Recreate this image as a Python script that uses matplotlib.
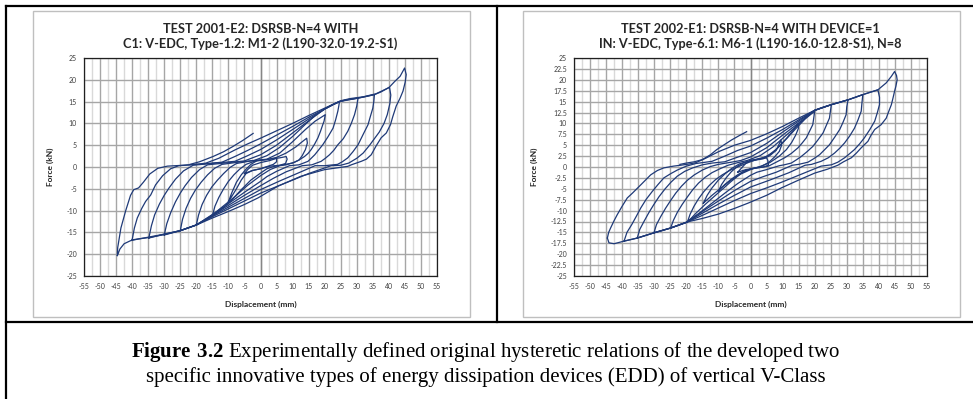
import matplotlib.pyplot as plt
from matplotlib.lines import Line2D
from matplotlib.patches import Rectangle
from matplotlib.ticker import MultipleLocator, FuncFormatter

plt.rcParams['mathtext.fontset'] = 'custom'
plt.rcParams['mathtext.rm'] = 'Liberation Serif'
plt.rcParams['mathtext.bf'] = 'Liberation Serif:bold'

# ---- data (displacement mm, force kN) ----
# left test 2001-E2, one loop per amplitude, clockwise from the negative peak
l5 = [(-5, -1.5), (-4, -0.6), (-2.5, 0.4), (0, 1.0), (3, 1.5), (5, 2.0),
      (5, 1.2), (4, 0.6), (2, 0.1), (0, -0.4), (-2.5, -0.8), (-5, -1.5)]
l10 = [(-10, -8), (-9, -6), (-7.5, -3.5), (-6, -1.8), (-4.5, -0.5), (-3, 0.6), (-1, 1.5),
       (3, 1.8), (6, 2.1), (8, 2.4), (8.3, 1.8), (7.8, 0.8), (6, 0.4), (3, 0.2), (0, -0.4),
       (-2.5, -0.8), (-4.5, -1.5), (-6, -3), (-7.5, -5), (-9, -6.8), (-10, -8)]
l15 = [(-15, -11.2), (-14.2, -9), (-13, -7), (-11.5, -5), (-10, -3.3), (-8.3, -1.8),
       (-6.5, -0.5), (-4.5, 0.6), (-2, 1.3), (2, 1.7), (5, 2.2), (8, 3.2), (11, 4.6),
       (13, 5.8), (14.4, 6.6), (14.6, 5.5), (14, 4), (13, 2.6), (12, 1.6), (10, 0.9),
       (7, 0.5), (4, 0.1), (2, -0.4), (0, -1.4), (-3, -3), (-6, -5.2), (-9, -7.6),
       (-12, -9.6), (-15, -11.2)]
l20 = [(-20, -13.3), (-19.3, -11), (-18.2, -8.6), (-16.8, -6.5), (-15.2, -4.6), (-13.4, -3),
       (-11.5, -1.5), (-9.5, -0.1), (-7.5, 0.8), (-3, 1.4), (2, 1.8), (6, 3.2), (10, 5.8),
       (14, 8.6), (17, 10.5), (20.2, 12), (19.8, 10.5), (19.4, 9.7), (18.7, 8.2), (17.9, 6.7),
       (16.9, 5.3), (15.8, 4), (14.8, 3.1), (13.7, 2.4), (12, 1.6), (10.6, 1.1), (8, 0.5),
       (6, 0.3), (3, -0.6), (0, -2), (-4, -4.2), (-8, -6.8), (-12, -9.2), (-16, -11.6),
       (-20, -13.3)]
l25 = [(-25, -14.6), (-24.3, -12), (-23.2, -9.5), (-21.8, -7.2), (-20.3, -5.3), (-18.5, -3.5),
       (-16.5, -1.8), (-14.3, -0.3), (-12, 0.6), (-7, 1.1), (-2, 1.5), (2, 2.6), (6, 4.5),
       (10, 7), (14, 9.8), (17, 11.8), (20, 13.3), (22.5, 14.3), (24.6, 15),
       (24.4, 14), (24.1, 12.8), (23.4, 10.8), (22.6, 8.9), (21, 6.9), (19.4, 5.1), (18.1, 3.9),
       (16.9, 2.8), (15.8, 2), (14.8, 1.3), (12, 0.5), (9, 0.3), (5, -1), (2, -2.2), (0, -3.3),
       (-5, -5.8), (-10, -8.4), (-15, -10.9), (-20, -13.3), (-25, -14.6)]
l30 = [(-30, -15.6), (-29.2, -13), (-28, -10.5), (-26.5, -8), (-25, -6), (-23.5, -4.3),
       (-21.5, -2.4), (-19, -0.6), (-16.5, 0.5), (-10, 1.0), (-5, 1.4), (0, 2.8), (5, 5),
       (10, 7.8), (15, 10.6), (20, 13.3), (22.5, 14.3), (24.6, 15), (26.7, 15.4),
       (28.5, 15.6), (30.4, 15.8), (30, 14), (29.3, 12), (28.3, 10), (27.2, 8.2), (25.8, 6.5),
       (24.1, 5.1), (22.8, 3.8), (21.5, 2.8), (20.2, 2), (18.9, 1.3), (16, 0.5), (13, 0.3),
       (8, -1.1), (4, -2.6), (0, -4.3), (-5, -6.5), (-10, -8.8), (-15, -11), (-20, -13.3),
       (-25, -14.6), (-30, -15.6)]
l35 = [(-34.8, -16.3), (-34, -13.5), (-33, -11), (-31.5, -8.5), (-30, -6.5), (-28.5, -4.8),
       (-26.5, -2.8), (-24, -0.9), (-21, 0.4), (-14, 0.9), (-8, 1.3), (-4, 2.6), (0, 4),
       (5, 6.2), (10, 8.6), (15, 11), (20, 13.3), (22.5, 14.3), (24.6, 15), (26.7, 15.4),
       (30.4, 15.8), (32.5, 16.1), (35.5, 16.6), (35.3, 15), (35, 13.5), (34.2, 11.5),
       (33.5, 9.7), (32, 7.5), (30.4, 5.1), (28.8, 3.5), (27.2, 2.1), (25.5, 1.2), (24, 0.6),
       (20, 0.3), (17, 0.3), (12, -1.3), (6, -3.2), (0, -5.2), (-5, -7.2), (-10, -9.2),
       (-15, -11.2), (-20, -13.3), (-25, -14.6), (-30, -15.4), (-34.8, -16.3)]
l40 = [(-40, -16.7), (-39.3, -14), (-38.4, -11.7), (-37, -9.5), (-35.8, -7.9), (-34.2, -6.4),
       (-32.7, -4.1), (-30.5, -2), (-28, -0.4), (-25.5, 0.3), (-18, 0.7), (-12, 1.1),
       (-8, 2.4), (-4, 3.8), (0, 5.3), (5, 7.3), (10, 9.3), (15, 11.4), (20, 13.3),
       (24.6, 15), (30.4, 15.8), (35.5, 16.6), (37.5, 17.2), (40.2, 18.3),
       (40.6, 16.5), (40.3, 14.5), (39.5, 12), (38.5, 10), (37, 8), (35.5, 6.5), (34, 5),
       (32, 3.2), (30, 2), (27.5, 0.9), (25, 0.4), (22, 0.3), (15, -1.5), (10, -3), (5, -4.5),
       (0, -6), (-5, -7.8), (-10, -9.6), (-15, -11.4), (-20, -13.3), (-25, -14.6),
       (-30, -15.5), (-35, -16.2), (-40, -16.7)]
l45 = [(-44.6, -20.3), (-44.5, -18.5), (-43.5, -14), (-42, -10), (-40.5, -6.5), (-39.5, -5.2),
       (-38, -4.8), (-36.5, -3.5), (-34.5, -1.6), (-32, -0.3), (-29, 0.2), (-24, 0.4),
       (-19, 0.7), (-17, 0.9), (-13, 2), (-8, 3.9), (-4, 5.3), (0, 6.6), (5, 8.3), (10, 10),
       (15, 11.8), (20, 13.5), (25, 15.2), (28, 15.7), (32, 16.1), (36, 16.8), (40, 18.2),
       (41.8, 19.6), (43.5, 20.8), (44.9, 22.7), (45.4, 21.2), (45.1, 19.5), (44.4, 17.4),
       (43.5, 15.8), (42.3, 14), (41.2, 11.5), (40.5, 9.7), (39.2, 7.8), (37.6, 6.7),
       (36, 4.8), (34.5, 2.8), (33, 1.8), (31.4, 1.3), (28.3, 0.5), (27.2, 0.15), (20, -0.6),
       (12.7, -2.1), (5.4, -4.4), (-0.8, -7.1), (-5, -8.6), (-10, -10.2), (-15, -11.7),
       (-20, -13.3), (-25, -14.6), (-30, -15.4), (-35, -16.1), (-38, -16.5), (-40.5, -16.9),
       (-42.5, -17.6), (-43.8, -18.8), (-44.6, -20.3)]
l_end = [(-22, 0.6), (-19, 1.2), (-14.8, 2.4), (-11.5, 3.5), (-8.6, 4.7), (-5.5, 6.1),
         (-2.3, 7.7)]
left_loops = [l5, l10, l15, l20, l25, l30, l35, l40, l45, l_end]

# right test 2002-E1
r5 = [(-4, -1.2), (-3, -0.4), (-1.5, 0.8), (0, 1.5), (2.5, 1.8), (5, 2.1),
      (5.4, 1.5), (5.6, 0.4), (4, 0), (1, -0.3), (-1.5, -0.6), (-4, -1.2)]
r10 = [(-10, -5.5), (-9, -4), (-7.5, -2.4), (-6, -1.1), (-4, 0.2), (-2, 1), (1, 1.5), (4, 1.9),
       (6, 2.6), (8, 3.8), (9.5, 6.2), (9.7, 5), (9, 3.6), (7.5, 2.3), (5.6, 1), (3.5, 0.2),
       (1, -0.3), (-2, -0.9), (-4, -1.8), (-6, -2.8), (-8, -4), (-10, -5.5)]
r15 = [(-14.7, -8.3), (-13.5, -6.5), (-12, -4.8), (-10, -3), (-8, -1.6), (-6, -0.4),
       (-3.5, 0.7), (0, 1.5), (4, 2.1), (6.5, 3), (9, 4.8), (11.5, 6.8), (13.5, 8.6),
       (14.9, 10), (14.9, 8.8), (14, 7.2), (12.8, 5.6), (11.2, 4), (9, 2.5), (6, 1), (3, 0.1),
       (0, -0.6), (-3, -1.6), (-6, -3), (-9, -4.7), (-12, -6.5), (-14.7, -8.3)]
r20 = [(-19.7, -12.7), (-18.8, -10.8), (-17.6, -9), (-16.2, -7.3), (-14.6, -5.7), (-12.8, -4.2),
       (-10.9, -2.9), (-8.8, -1.8), (-6.5, -0.8), (-4, 0), (-1.5, 0.8), (1.5, 1.6), (5, 2.4),
       (8, 4), (11, 6.3), (14, 8.7), (17, 11), (20, 12.8), (19.7, 11.2), (19.4, 9.7),
       (18.4, 8.2), (17.4, 6.7), (16.1, 5.5), (14.8, 4.4), (12.7, 3.1), (10.6, 2.1), (8, 1.1),
       (5.6, 0.2), (3, -0.1), (0, -0.4), (-3, -1.5), (-6, -3.3), (-10, -5.9), (-14, -8.5),
       (-17, -10.6), (-19.7, -12.7)]
r25 = [(-24.9, -14), (-24, -12.2), (-22.8, -10.4), (-21.3, -8.6), (-19.7, -6.9), (-18, -5.2),
       (-16.2, -3.7), (-14.2, -2.4), (-12, -1.3), (-9.5, -0.4), (-7, 0.4), (-4, 1), (-1, 1.5),
       (3, 2.6), (7, 4.6), (11, 7.2), (15, 9.8), (18, 11.8), (20, 13), (22.5, 13.7),
       (25.2, 14.3), (24.9, 12.8), (24.6, 11.2), (23.6, 9.5), (22.6, 7.8), (21, 6.2),
       (19.4, 4.7), (17.6, 3.5), (15.8, 2.4), (14.2, 1.6), (12.7, 0.9), (10.5, 0.5), (9, 0.3),
       (5, -0.6), (2, -1.2), (0, -1.9), (-4, -3.8), (-8, -6), (-12, -8.3), (-16, -10.6),
       (-20, -12.7), (-24.9, -14)]
r30 = [(-30.1, -15.1), (-29.3, -13.2), (-28, -11.4), (-26.5, -9.5), (-25, -7.8), (-23.3, -6),
       (-21.5, -4.4), (-19.6, -3), (-17.5, -1.8), (-15, -0.7), (-12.5, 0.1), (-10, 0.6),
       (-6, 1.1), (-3, 1.5), (0, 2.3), (5, 4.4), (10, 7.3), (15, 10.1), (20, 13), (25.2, 14.3),
       (30.4, 15.4), (30, 13.8), (29.8, 12), (28.8, 10.2), (27.8, 8.6), (26.2, 6.8),
       (24.6, 5.1), (23, 3.9), (21.5, 2.8), (19.7, 1.9), (17.9, 1.1), (15, 0.6), (13, 0.4),
       (8, -1.2), (4, -2.2), (0, -3.3), (-5, -5.4), (-10, -7.8), (-15, -10.2), (-20, -12.7),
       (-24.9, -14), (-30.1, -15.1)]
r35 = [(-35.3, -16.3), (-34.5, -14.3), (-33.2, -12.5), (-31.7, -10.5), (-30.2, -8.7),
       (-28.5, -6.8), (-26.6, -5), (-24.8, -3.5), (-22.8, -2.1), (-20.5, -1), (-18, -0.2),
       (-15, 0.5), (-12, 0.9), (-8, 1.2), (-5, 2), (0, 3.3), (5, 5.4), (10, 8), (15, 10.5),
       (20, 13), (25.2, 14.3), (30.4, 15.4), (35, 16.6), (34.7, 14.5), (34.5, 12.8),
       (33.5, 10.8), (32.4, 8.9), (30.9, 7.1), (29.3, 5.5), (27.8, 4.3), (26.2, 3.2),
       (24.2, 2.1), (22, 1.3), (19, 0.6), (17, 0.4), (12, -1.3), (6, -3), (0, -4.6),
       (-5, -6.5), (-10, -8.5), (-15, -10.6), (-20, -12.7), (-24.9, -14), (-30.1, -15.1),
       (-35.3, -16.3)]
r40 = [(-39.4, -17), (-38.5, -15), (-37, -13.2), (-35.5, -11.2), (-34.2, -9.4), (-32.5, -7.4),
       (-30.6, -5.6), (-28.8, -4), (-27, -2.5), (-24.8, -1.5), (-22.8, -0.7), (-20, 0.2),
       (-17, 0.8), (-12, 1.3), (-8, 2.5), (-4, 3.8), (0, 4.8), (5, 6.6), (10, 8.6),
       (15, 10.8), (20, 13), (25.2, 14.3), (30.4, 15.4), (35, 16.6), (39.7, 17.7),
       (40.2, 16), (40.2, 14.3), (39.5, 12.4), (38.7, 10.5), (37.2, 8.6), (35.5, 6.7),
       (34, 5.3), (32.4, 4), (30.8, 3), (29.3, 2.1), (27.2, 1.1), (25.2, 0.5), (22, 0.2),
       (16, -1.6), (10, -3.4), (5, -4.8), (0, -6.1), (-5, -7.7), (-10, -9.4), (-15, -11.1),
       (-20, -12.7), (-24.9, -14), (-30.1, -15.1), (-35.3, -16.3), (-39.4, -17)]
r45 = [(-44.6, -16.3), (-44.2, -15), (-43.6, -14), (-42.5, -12.3), (-41.5, -10.9), (-40, -9),
       (-38.4, -7.1), (-36.8, -6), (-34.2, -4.1), (-31.1, -1.8), (-29, -0.8), (-27, -0.2),
       (-24, 0.2), (-21.8, 0.4), (-19, 0.7), (-17, 1), (-14, 2), (-10, 3.5), (-5, 5), (0, 6.1),
       (5, 7.6), (10, 9.3), (15, 11.2), (20, 13), (25.2, 14.3), (30.4, 15.4), (35, 16.6),
       (39.7, 17.7), (42.3, 19.3), (43.9, 20.8), (44.9, 21.9), (45.5, 21), (45.7, 20),
       (45.3, 18.5), (44.9, 17.4), (44.4, 15.8), (43.9, 14.3), (43, 12.6), (42.3, 11.2),
       (40.7, 9.7), (38.7, 8.6), (37.5, 7.2), (36.6, 5.9), (34.5, 4.4), (33, 3.2), (31.4, 2.1),
       (29, 1.2), (27.2, 0.4), (24, -0.5), (20, -1.4), (15, -3), (9.6, -4.8), (5, -6.5),
       (-0.8, -8.3), (-5, -9.5), (-10, -10.8), (-15, -11.8), (-19.7, -12.6), (-24.9, -14),
       (-30.1, -15.1), (-35.3, -16.3), (-39.4, -17), (-42.5, -17.6), (-44.1, -17.4),
       (-44.6, -16.3)]
r_end = [(-22, 0.6), (-20, 0.9), (-17.5, 1.2), (-15, 1.7), (-12.5, 2.8), (-10.5, 4),
         (-8, 5.2), (-5.9, 6.2), (-3.5, 7.2), (-1.2, 8.1)]
right_loops = [r5, r10, r15, r20, r25, r30, r35, r40, r45, r_end]

left_title = "TEST 2001-E2: DSRSB-N=4 WITH\nC1: V-EDC, Type-1.2: M1-2 (L190-32.0-19.2-S1)"
right_title = "TEST 2002-E1: DSRSB-N=4 WITH DEVICE=1\nIN: V-EDC, Type-6.1: M6-1 (L190-16.0-12.8-S1), N=8"

W, H = 973, 399
fig = plt.figure(figsize=(W / 100, H / 100), dpi=100)
sans = 'Lato'
navy = '#1F3A78'


def px_line(x0, y0, x1, y1, **kw):
    fig.add_artist(Line2D([x0 / W, x1 / W], [1 - y0 / H, 1 - y1 / H],
                          transform=fig.transFigure, **kw))


def px_box(x0, y0, x1, y1, **kw):
    fig.add_artist(Rectangle((x0 / W, 1 - y1 / H), (x1 - x0) / W, (y1 - y0) / H,
                             transform=fig.transFigure, fill=False, **kw))


def draw_chart(left_px, loops, title, ystep):
    ax = fig.add_axes([left_px / W, 1 - 276 / H, 353 / W, 218 / H])
    ax.set_xlim(-55, 55)
    ax.set_ylim(-25, 25)
    ax.xaxis.set_major_locator(MultipleLocator(5))
    ax.xaxis.set_minor_locator(MultipleLocator(2.5))
    ax.yaxis.set_major_locator(MultipleLocator(ystep))
    ax.grid(which='minor', axis='x', color='#D9D9D9', lw=1.0)
    ax.grid(which='major', axis='x', color='#A6A6A6', lw=1.0)
    ax.grid(which='major', axis='y', color='#A6A6A6', lw=1.0)
    ax.set_axisbelow(True)
    ax.axvline(0, color='#868686', lw=1.0, zorder=1)
    ax.tick_params(which='both', length=0, labelsize=5, labelcolor='#404040', pad=5)
    ax.yaxis.set_major_formatter(FuncFormatter(lambda v, p: '%g' % v))
    ax.xaxis.set_major_formatter(FuncFormatter(lambda v, p: '%g' % v))
    for lab in ax.get_xticklabels() + ax.get_yticklabels():
        lab.set_family(sans)
    for s in ax.spines.values():
        s.set_color('#202020')
        s.set_linewidth(0.9)
    for loop in loops:
        xs = [p[0] for p in loop]
        fs = [p[1] for p in loop]
        ax.plot(xs, fs, color=navy, lw=0.9, zorder=3)
    ax.set_xlabel('Displacement (mm)', fontsize=6, fontweight='bold', family=sans,
                  color='#262626', labelpad=8)
    ax.set_ylabel('Force (kN)', fontsize=6, fontweight='bold', family=sans,
                  color='#262626', labelpad=9)
    ax.set_title(title, fontsize=9.2, fontweight='bold', family=sans, color='#262626',
                 pad=7, linespacing=1.3)
    return ax


draw_chart(84, left_loops, left_title, 5)
draw_chart(574, right_loops, right_title, 2.5)

# chart frames and table borders
px_box(33, 11, 470, 317, edgecolor='#BFBFBF', lw=1.0)
px_box(523, 11, 960, 317, edgecolor='#BFBFBF', lw=1.0)
px_line(6, 6, 973, 6, color='black', lw=1.6)
px_line(6, 6, 6, 399, color='black', lw=1.6)
px_line(497, 6, 497, 322, color='black', lw=1.6)
px_line(6, 322, 973, 322, color='black', lw=1.6)

fig.text(486 / W, 1 - 352 / H,
         r'$\mathbf{Figure\ 3.2}$ Experimentally defined original hysteretic relations of the developed two',
         ha='center', va='center', fontsize=15, family='Liberation Serif')
fig.text(486 / W, 1 - 377 / H,
         'specific innovative types of energy dissipation devices (EDD) of vertical V-Class',
         ha='center', va='center', fontsize=15, family='Liberation Serif')

fig.savefig('out.png', dpi=100)
